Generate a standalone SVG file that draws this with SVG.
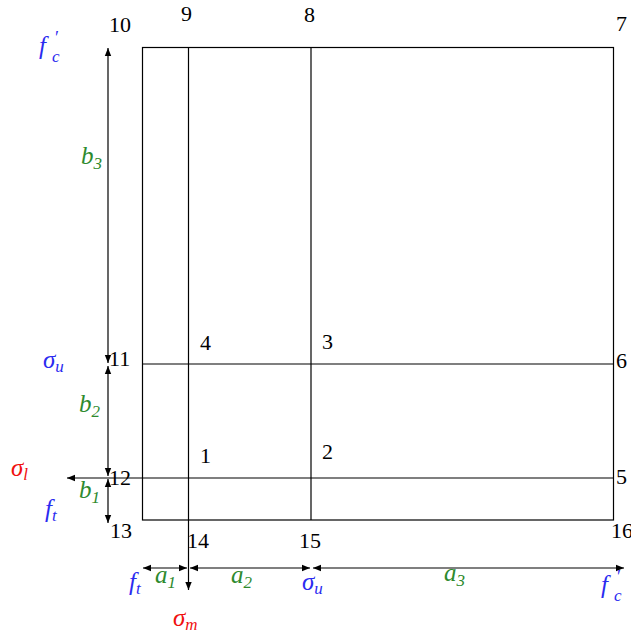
<svg xmlns="http://www.w3.org/2000/svg" width="631" height="638" viewBox="0 0 631 638">
<style>
.ln{stroke:#000;stroke-width:1.2;fill:none}
.dim{stroke:#000;stroke-width:1.2;fill:none;marker-end:url(#ah)}
.dim2{stroke:#000;stroke-width:1.2;fill:none;marker-start:url(#ah);marker-end:url(#ah)}
.num{font-family:"Liberation Serif","Times New Roman",serif;font-size:22px;fill:#000}
.m{font-family:"Liberation Serif","Times New Roman",serif;font-size:25px;font-style:italic}
.sub{font-size:17px}
.pr{font-family:"Liberation Serif","Times New Roman",serif;font-size:18px}
.blue{fill:#2b2bf0}
.green{fill:#2e8a2e}
.red{fill:#f01010}
</style>
<defs>
<marker id="ah" viewBox="0 0 10 10" refX="10" refY="5" markerWidth="8" markerHeight="8" markerUnits="userSpaceOnUse" orient="auto-start-reverse">
<path d="M0,1 L10,5 L0,9 z" fill="#000"/>
</marker>
</defs>
<rect width="631" height="638" fill="#fff"/>
<g id="grid">
<rect class="ln" x="142.5" y="47.5" width="471" height="472.5"/>
<line class="ln" x1="188.5" y1="47.5" x2="188.5" y2="520"/>
<line class="ln" x1="311" y1="47.5" x2="311" y2="520"/>
<line class="ln" x1="142.5" y1="364" x2="613.5" y2="364"/>
<line class="ln" x1="142.5" y1="478" x2="613.5" y2="478"/>
</g>
<g id="connectors">
<line class="dim2" x1="108" y1="48" x2="108" y2="363"/>
<line class="dim2" x1="108" y1="366" x2="108" y2="476"/>
<line class="dim2" x1="108" y1="479" x2="108" y2="523"/>
<line class="dim" x1="142" y1="478" x2="67" y2="478"/>
<line class="dim" x1="188.5" y1="520" x2="188.5" y2="590"/>
<line class="dim2" x1="143" y1="568" x2="187" y2="568"/>
<line class="dim2" x1="190" y1="568" x2="310" y2="568"/>
<line class="dim2" x1="313" y1="568" x2="624" y2="568"/>
</g>
<g id="node-numbers">
<text class="num" x="109" y="32">10</text>
<text class="num" x="181" y="21">9</text>
<text class="num" x="304" y="22">8</text>
<text class="num" x="616" y="31">7</text>
<text class="num" x="616" y="368">6</text>
<text class="num" x="616" y="484">5</text>
<text class="num" x="200" y="350">4</text>
<text class="num" x="322" y="349">3</text>
<text class="num" x="200" y="463">1</text>
<text class="num" x="322" y="459">2</text>
<text class="num" x="109" y="366">11</text>
<text class="num" x="109" y="485">12</text>
<text class="num" x="110" y="538">13</text>
<text class="num" x="187" y="548">14</text>
<text class="num" x="299" y="548">15</text>
<text class="num" x="611" y="538">16</text>
</g>
<g id="stress-labels">
<text class="m blue" x="39" y="54">f<tspan x="52" y="62" class="sub">c</tspan></text>
<text class="pr blue" x="55" y="44">′</text>
<text class="m blue" x="43" y="368">σ<tspan class="sub" dy="4">u</tspan></text>
<text class="m red" x="11" y="476">σ<tspan class="sub" dy="4">l</tspan></text>
<text class="m blue" x="45" y="517">f<tspan class="sub" dy="4">t</tspan></text>
<text class="m blue" x="129" y="590">f<tspan class="sub" dy="4">t</tspan></text>
<text class="m red" x="173" y="626">σ<tspan class="sub" dy="4">m</tspan></text>
<text class="m blue" x="302" y="590">σ<tspan class="sub" dy="4">u</tspan></text>
<text class="m blue" x="601" y="593">f<tspan x="614" y="601" class="sub">c</tspan></text>
<text class="pr blue" x="617" y="583">′</text>
</g>
<g id="dimension-labels">
<text class="m green" x="81" y="164">b<tspan class="sub" dy="5">3</tspan></text>
<text class="m green" x="79" y="412">b<tspan class="sub" dy="5">2</tspan></text>
<text class="m green" x="79" y="498">b<tspan class="sub" dy="5">1</tspan></text>
<text class="m green" x="155" y="583">a<tspan class="sub" dy="5">1</tspan></text>
<text class="m green" x="231" y="583">a<tspan class="sub" dy="5">2</tspan></text>
<text class="m green" x="444" y="581">a<tspan class="sub" dy="5">3</tspan></text>
</g>
</svg>
